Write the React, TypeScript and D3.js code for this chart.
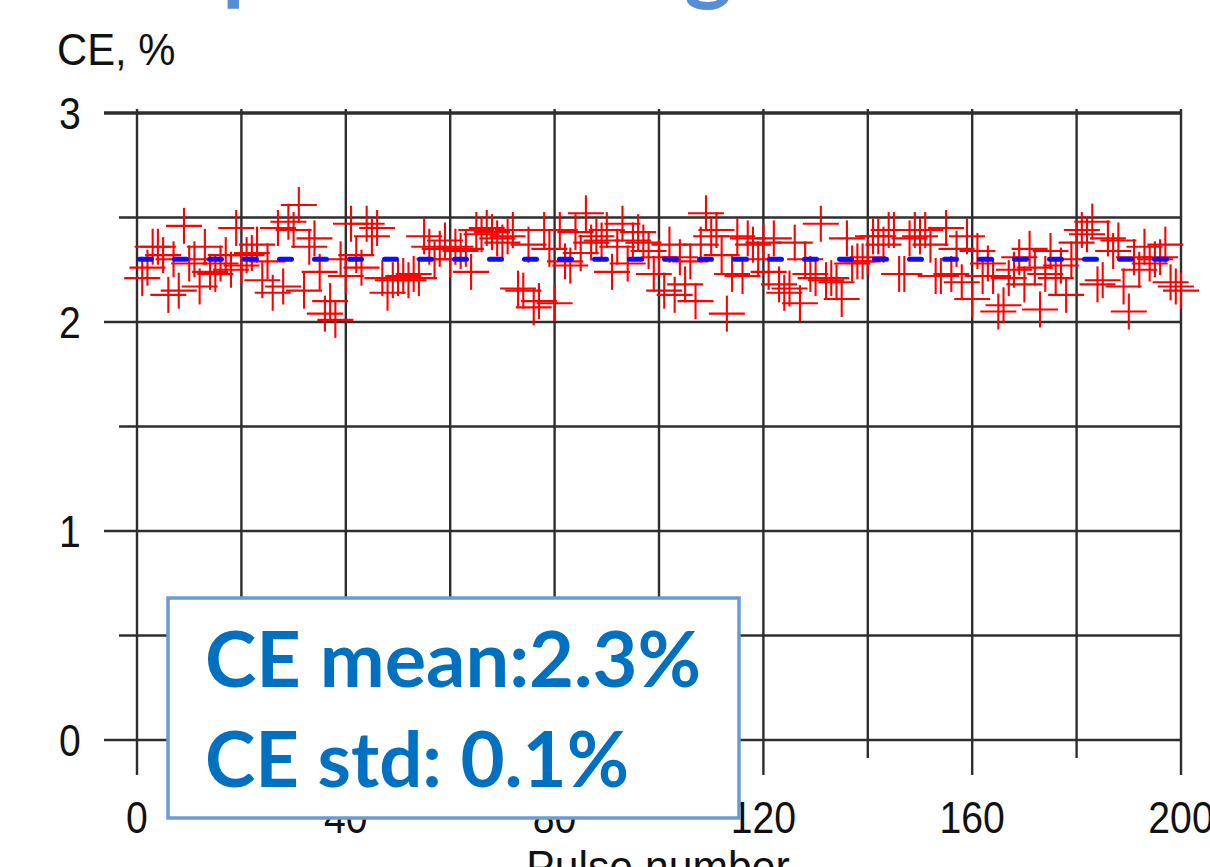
import React from 'react';
import * as d3 from 'd3';

const W = 1210;
const H = 867;

// CE (%) for pulses 1..200
const ceValues: number[] = [
  2.21, 2.26, 2.36, 2.36, 2.32, 2.13, 2.30, 2.15, 2.46, 2.28,
  2.30, 2.17, 2.36, 2.24, 2.23, 2.28, 2.32, 2.25, 2.45, 2.27,
  2.32, 2.33, 2.37, 2.20, 2.29, 2.14, 2.45, 2.17, 2.48, 2.44,
  2.56, 2.15, 2.36, 2.40, 2.24, 2.04, 2.10, 2.01, 2.30, 2.22,
  2.47, 2.32, 2.26, 2.47, 2.41, 2.45, 2.21, 2.14, 2.20, 2.21,
  2.22, 2.20, 2.23, 2.21, 2.41, 2.36, 2.30, 2.35, 2.39, 2.30,
  2.36, 2.34, 2.35, 2.24, 2.44, 2.42, 2.45, 2.43, 2.40, 2.38,
  2.41, 2.44, 2.16, 2.15, 2.37, 2.07, 2.10, 2.44, 2.35, 2.09,
  2.44, 2.29, 2.27, 2.43, 2.33, 2.52, 2.38, 2.41, 2.39, 2.44,
  2.24, 2.36, 2.47, 2.28, 2.39, 2.43, 2.38, 2.34, 2.23, 2.31,
  2.15, 2.37, 2.13, 2.31, 2.18, 2.29, 2.10, 2.37, 2.52, 2.41,
  2.44, 2.32, 2.04, 2.23, 2.41, 2.22, 2.40, 2.37, 2.30, 2.38,
  2.24, 2.40, 2.18, 2.14, 2.16, 2.38, 2.09, 2.30, 2.23, 2.21,
  2.47, 2.20, 2.21, 2.19, 2.11, 2.40, 2.28, 2.29, 2.29, 2.31,
  2.41, 2.41, 2.37, 2.44, 2.44, 2.23, 2.23, 2.40, 2.44, 2.41,
  2.44, 2.37, 2.22, 2.22, 2.45, 2.23, 2.35, 2.19, 2.41, 2.11,
  2.34, 2.22, 2.28, 2.22, 2.05, 2.08, 2.21, 2.25, 2.31, 2.18,
  2.35, 2.26, 2.06, 2.23, 2.34, 2.21, 2.27, 2.13, 2.30, 2.38,
  2.44, 2.42, 2.48, 2.18, 2.20, 2.40, 2.34, 2.39, 2.17, 2.05,
  2.31, 2.25, 2.36, 2.28, 2.30, 2.31, 2.37, 2.19, 2.17, 2.15,
];

const ceMean = 2.3;
const ceStd = 0.1;
const meanSpan = [0, 201.5];

const xTickLabels = [0, 40, 80, 120, 160, 200];
const xGrid = [0, 20, 40, 60, 80, 100, 120, 140, 160, 180, 200];
const yTickLabels = [0, 1, 2, 3];
const yGrid = [0, 0.5, 1, 1.5, 2, 2.5, 3];

const GRID = '#2e2e2e';
const SANS = '"Liberation Sans", Arial, sans-serif';
const CALLOUT_FONT = 'Lato, "Open Sans", sans-serif';

export default function App() {
  const x = d3.scaleLinear().domain([0, 200]).range([137, 1181]);
  const y = d3.scaleLinear().domain([0, 3]).range([740, 113]);
  const armX = 18;
  const armY = 18;

  const meanY = y(ceMean);

  return (
    <svg
      width={W}
      height={H}
      viewBox={`0 0 ${W} ${H}`}
      style={{ position: 'absolute', left: 0, top: 0, background: '#fff' }}
    >
      <defs>
        <filter id="soft" x="-5%" y="-5%" width="110%" height="110%">
          <feGaussianBlur stdDeviation="0.55" />
        </filter>
      </defs>
      <rect x={0} y={0} width={W} height={H} fill="#fff" />

      {/* slide heading, mostly above the visible area */}
      <g fill="#558ed5" fontFamily={CALLOUT_FONT} fontWeight={700} fontSize={92}>
        <text x={216} y={-7} textAnchor="end">EUV</text>
        <text x={222} y={-7}>power scalin</text>
        <text x={684} y={-7}>g</text>
      </g>

      <g filter="url(#soft)">
        {/* horizontal grid lines with left ticks */}
        {yGrid.map((v) => (
          <line
            key={`h${v}`}
            x1={Number.isInteger(v) ? 104 : 119}
            x2={x(200)}
            y1={y(v)}
            y2={y(v)}
            stroke={GRID}
            strokeWidth={v === 3 ? 3.6 : 2.6}
          />
        ))}
        {/* vertical grid lines with bottom ticks */}
        {xGrid.map((v) => (
          <line
            key={`v${v}`}
            x1={x(v)}
            x2={x(v)}
            y1={109}
            y2={v % 40 === 0 ? 775 : 758}
            stroke={GRID}
            strokeWidth={2.4}
          />
        ))}

        {/* measured CE per pulse */}
        <g stroke="#ff0000" strokeWidth={2.1}>
          {ceValues.map((v, i) => {
            const cx = x(i + 1);
            const cy = y(v);
            return (
              <g key={`p${i}`}>
                <line x1={cx - armX} x2={cx + armX} y1={cy} y2={cy} />
                <line x1={cx} x2={cx} y1={cy - armY} y2={cy + armY} />
              </g>
            );
          })}
        </g>

        {/* mean CE */}
        <line
          x1={x(meanSpan[0])}
          x2={x(meanSpan[1])}
          y1={meanY}
          y2={meanY}
          stroke="#0a0aff"
          strokeWidth={5}
          strokeLinecap="round"
          strokeDasharray="12 23"
          strokeDashoffset={-2.5}
        />
      </g>

      {/* axis labels */}
      <g fill="#111" fontFamily={SANS} fontSize={45}>
        {yTickLabels.map((v) => (
          <text
            key={`yl${v}`}
            transform={`translate(70, ${y(v) + 16}) scale(0.87, 1)`}
            textAnchor="middle"
          >
            {v}
          </text>
        ))}
        {xTickLabels.map((v) => (
          <text
            key={`xl${v}`}
            transform={`translate(${x(v)}, 833) scale(0.87, 1)`}
            textAnchor="middle"
          >
            {v}
          </text>
        ))}
        <text transform="translate(57, 65) scale(0.95, 1)" fontSize={44}>
          CE, %
        </text>
        <text transform="translate(658, 882) scale(0.95, 1)" textAnchor="middle" fontSize={45}>
          Pulse number
        </text>
      </g>

      {/* summary callout */}
      <rect
        x={168}
        y={598}
        width={571}
        height={220}
        fill="#fff"
        stroke="#6a9bd1"
        strokeWidth={3.5}
      />
      <g fill="#0070c0" fontFamily={CALLOUT_FONT} fontWeight={700} fontSize={76}>
        <text x={205} y={687} textLength={496} lengthAdjust="spacingAndGlyphs">
          {`CE mean:${ceMean.toFixed(1)}%`}
        </text>
        <text x={205} y={787} textLength={424} lengthAdjust="spacingAndGlyphs">
          {`CE std: ${ceStd.toFixed(1)}%`}
        </text>
      </g>
    </svg>
  );
}
